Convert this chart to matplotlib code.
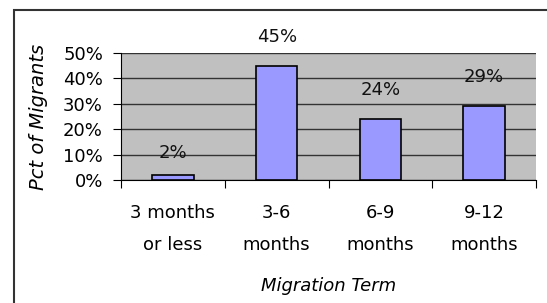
import matplotlib
matplotlib.use("Agg")
import matplotlib.pyplot as plt
from matplotlib.patches import Rectangle
from matplotlib.ticker import PercentFormatter

categories = ["3 months\nor less", "3-6\nmonths", "6-9\nmonths", "9-12\nmonths"]
values = [2, 45, 24, 29]
labels = ["2%", "45%", "24%", "29%"]
yticks = [0, 10, 20, 30, 40, 50]

plt.rcParams['font.family'] = ['DejaVu Sans']
fsize = 13

fig = plt.figure(figsize=(5.47, 3.03), dpi=100)
# outer chart frame (runs off the right and bottom edges)
fig.patches.append(Rectangle((14 / 547, -0.1), 1.0, 1.1 - 10 / 303, transform=fig.transFigure,
                             fill=False, edgecolor='#333333', linewidth=1.5))

ax = fig.add_axes([121 / 547, 1 - 180 / 303, (536 - 121) / 547, (180 - 53) / 303])
ax.set_facecolor('#C0C0C0')
x = range(len(categories))
ax.bar(x, values, width=0.4, color='#9999FF', edgecolor='black', linewidth=1.2, zorder=3)
for xi, v, lab in zip(x, values, labels):
    off = 16 if v < 5 else 21
    ax.annotate(lab, (xi, v), xytext=(0, off), textcoords='offset points',
                ha='center', va='center', fontsize=fsize, color='#111111', zorder=4)

ax.set_xlim(-0.5, len(categories) - 0.5)
ax.set_ylim(0, 50)
ax.set_yticks(yticks)
ax.yaxis.set_major_formatter(PercentFormatter(decimals=0))
ax.yaxis.grid(True, color='#333333', linewidth=1)
ax.set_axisbelow(True)

ax.set_xticks([i - 0.5 for i in range(len(categories) + 1)], minor=False)
ax.set_xticklabels([])
ax.set_xticks(list(x), minor=True)
ax.set_xticklabels(categories, minor=True, fontsize=fsize, linespacing=2.05)
ax.tick_params(axis='x', which='minor', length=0, pad=17)
ax.tick_params(axis='x', which='major', length=6, direction='out', color='black')
ax.tick_params(axis='y', length=6, direction='out', labelsize=fsize, pad=7)

for s in ['top', 'right']:
    ax.spines[s].set_visible(False)
ax.spines['left'].set_color('black')
ax.spines['bottom'].set_color('black')

ax.set_xlabel("Migration Term", fontsize=fsize, style='italic', labelpad=16)
ax.set_ylabel("Pct of Migrants", fontsize=14, style='italic', labelpad=11)

fig.savefig("out.png", dpi=100)
